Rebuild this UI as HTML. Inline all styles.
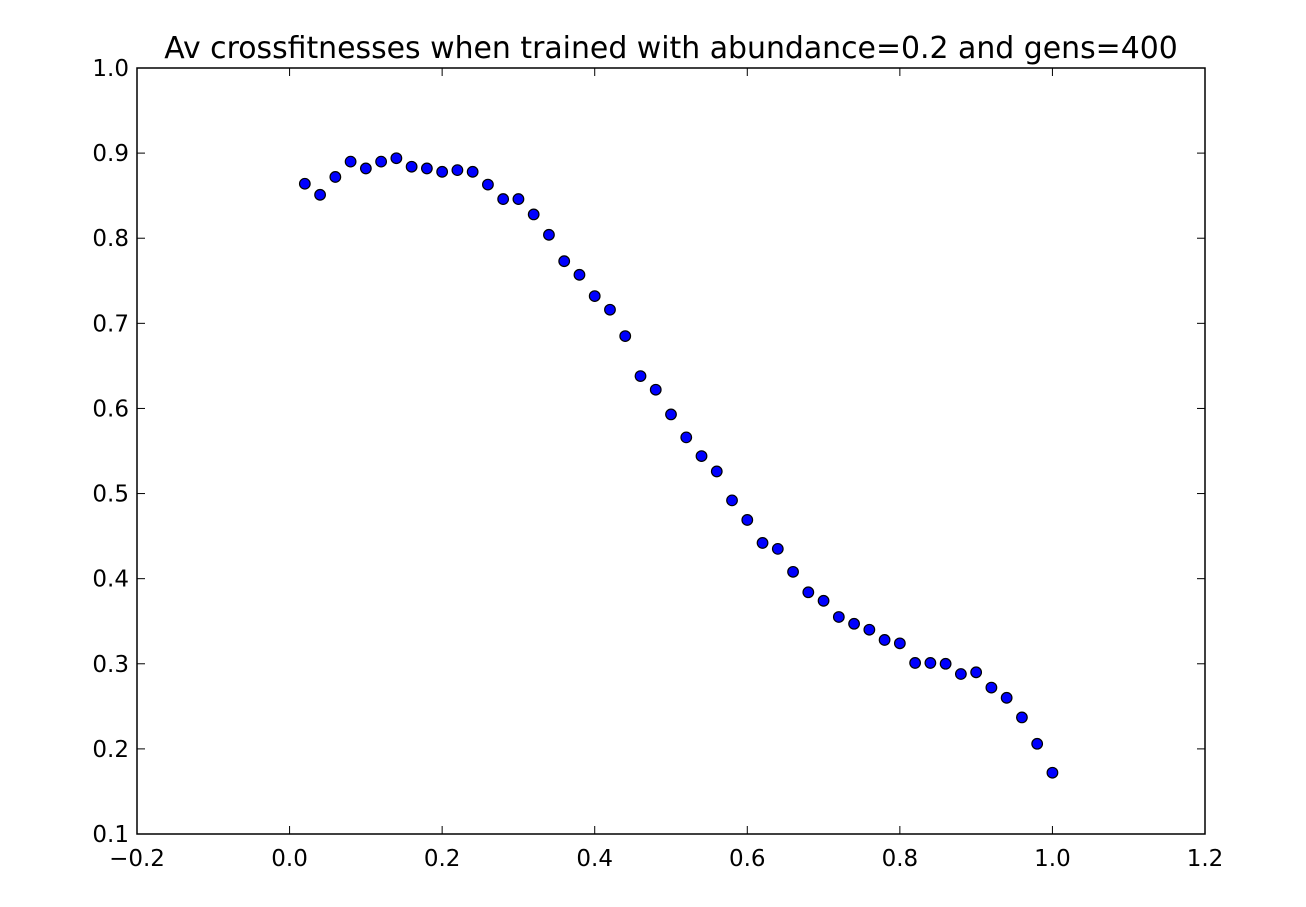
<!DOCTYPE html>
<html><head><meta charset="utf-8"><style>
body{margin:0;background:#fff;}
svg{display:block;font-family:"DejaVu Sans","Liberation Sans",sans-serif;}
</style></head><body>
<svg id="chart" width="1306" height="907">
<rect x="0" y="0" width="1306" height="907" fill="#fff"/>
<text x="671" y="58" font-size="29.9" text-anchor="middle">Av crossfitnesses when trained with abundance=0.2 and gens=400</text>
<g id="ticks"></g>
<g id="points"></g>
<rect x="137" y="68" width="1068" height="766" fill="none" stroke="#000" stroke-width="1.5"/>
</svg>
<script>
const xs = [0.02,0.04,0.06,0.08,0.10,0.12,0.14,0.16,0.18,0.20,0.22,0.24,0.26,0.28,0.30,0.32,0.34,0.36,0.38,0.40,0.42,0.44,0.46,0.48,0.50,0.52,0.54,0.56,0.58,0.60,0.62,0.64,0.66,0.68,0.70,0.72,0.74,0.76,0.78,0.80,0.82,0.84,0.86,0.88,0.90,0.92,0.94,0.96,0.98,1.00];
const ys = [0.864,0.851,0.872,0.890,0.882,0.890,0.894,0.884,0.882,0.878,0.880,0.878,0.863,0.846,0.846,0.828,0.804,0.773,0.757,0.732,0.716,0.685,0.638,0.622,0.593,0.566,0.544,0.526,0.492,0.469,0.442,0.435,0.408,0.384,0.374,0.355,0.347,0.340,0.328,0.324,0.301,0.301,0.300,0.288,0.290,0.272,0.260,0.237,0.206,0.172];
const xTicks = [-0.2,0.0,0.2,0.4,0.6,0.8,1.0,1.2];
const xTickLabels = ["\u22120.2","0.0","0.2","0.4","0.6","0.8","1.0","1.2"];
const yTicks = [0.1,0.2,0.3,0.4,0.5,0.6,0.7,0.8,0.9,1.0];
const yTickLabels = ["0.1","0.2","0.3","0.4","0.5","0.6","0.7","0.8","0.9","1.0"];

const L=137,R=1205,T=68,B=834;
const xMin=-0.2,xMax=1.2,yMin=0.1,yMax=1.0;
function sx(v){return L+(v-xMin)/(xMax-xMin)*(R-L);}
function sy(v){return B-(v-yMin)/(yMax-yMin)*(B-T);}
const NS="http://www.w3.org/2000/svg";
const tg=document.getElementById('ticks');
function mk(tag,attrs,parent){const e=document.createElementNS(NS,tag);for(const k in attrs)e.setAttribute(k,attrs[k]);parent.appendChild(e);return e;}
xTicks.forEach((v,i)=>{
  const x=sx(v);
  const a=mk('line',{x1:x,x2:x,y1:B,y2:B-8,stroke:'#000','stroke-width':1},tg);
  
  
  const b=mk('line',{x1:x,x2:x,y1:T,y2:T+8,stroke:'#000','stroke-width':1},tg);
  
  
  const t=mk('text',{x:x,y:B+32,'font-size':23,'text-anchor':'middle'},tg);
  t.textContent=xTickLabels[i];
  
  
});
yTicks.forEach((v,i)=>{
  const y=sy(v);
  const a=mk('line',{x1:L,x2:L+8,y1:y,y2:y,stroke:'#000','stroke-width':1},tg);
  
  
  const b=mk('line',{x1:R,x2:R-8,y1:y,y2:y,stroke:'#000','stroke-width':1},tg);
  
  
  const t=mk('text',{x:L-8,y:y+8,'font-size':23,'text-anchor':'end'},tg);
  t.textContent=yTickLabels[i];
  
  
});
const pg=document.getElementById('points');
xs.forEach((v,i)=>{
  const c=mk('circle',{cx:sx(v),cy:sy(ys[i]),r:5.3,fill:'#0000ff',stroke:'#000','stroke-width':1.2},pg);
  
  
});
</script>
</body></html>
